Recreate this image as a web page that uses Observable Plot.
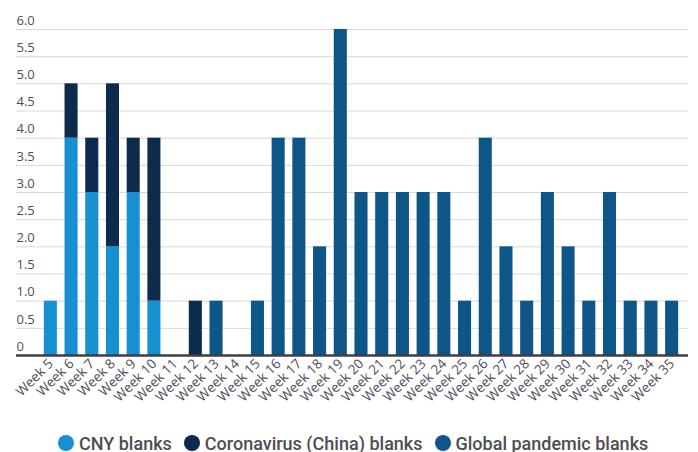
<!DOCTYPE html>
<html>
<head>
<meta charset="utf-8">
<script src="https://cdn.jsdelivr.net/npm/d3@7"></script>
<script src="https://cdn.jsdelivr.net/npm/@observablehq/plot@0.6"></script>
<style>
  html, body { margin: 0; padding: 0; background: #fff; }
  #chart { width: 698px; }
  .legend { display: flex; align-items: center; padding-left: 58px; margin-top: 11px;
    font-family: Roboto, sans-serif; font-weight: 500; font-size: 18px; color: #4d4d52; height: 40px; }
  .legend .item { margin-right: 12px; white-space: nowrap; display: flex; align-items: center; }
  .legend span.sw { display: inline-block; width: 16px; height: 16px; border-radius: 50%; margin-right: 5px; }
</style>
</head>
<body>
<div id="chart"></div>
<script>
const weeks = ["Week 5","Week 6","Week 7","Week 8","Week 9","Week 10","Week 11","Week 12","Week 13","Week 14","Week 15","Week 16","Week 17","Week 18","Week 19","Week 20","Week 21","Week 22","Week 23","Week 24","Week 25","Week 26","Week 27","Week 28","Week 29","Week 30","Week 31","Week 32","Week 33","Week 34","Week 35"];
const cnyBlanks =    [1,4,3,2,3,1,0,0,0,0,0,0,0,0,0,0,0,0,0,0,0,0,0,0,0,0,0,0,0,0,0];
const coronaBlanks = [0,1,1,3,1,3,0,1,0,0,0,0,0,0,0,0,0,0,0,0,0,0,0,0,0,0,0,0,0,0,0];
const globalBlanks = [0,0,0,0,0,0,0,0,1,0,1,4,4,2,6,3,3,3,3,3,1,4,2,1,3,2,1,3,1,1,1];
const seriesNames = ["CNY blanks", "Coronavirus (China) blanks", "Global pandemic blanks"];
const seriesColors = ["#1690d0", "#0c2b4d", "#0e5588"];
const yTicks = [0, 0.5, 1, 1.5, 2, 2.5, 3, 3.5, 4, 4.5, 5, 5.5, 6];
const yTickLabels = ["0", "0.5", "1.0", "1.5", "2.0", "2.5", "3.0", "3.5", "4.0", "4.5", "5.0", "5.5", "6.0"];

const seriesValues = [cnyBlanks, coronaBlanks, globalBlanks];
const data = [];
seriesNames.forEach((s, si) => weeks.forEach((w, i) => data.push({week: w, series: s, value: seriesValues[si][i]})));

const plot = Plot.plot({
  width: 698,
  height: 412,
  marginTop: 29,
  marginBottom: 57,
  marginLeft: 16,
  marginRight: 10,
  style: {fontFamily: "'Open Sans', sans-serif", color: "#4d4d5a", background: "#fff"},
  x: {domain: weeks, range: [40, 682], round: false, paddingInner: 0.37, paddingOuter: 0.185, label: null},
  y: {domain: [0, 6], label: null},
  color: {domain: seriesNames, range: seriesColors},
  marks: [
    Plot.ruleY(yTicks.slice(1), {stroke: "#d9d9d9", strokeWidth: 1}),
    Plot.text(yTicks, {y: d => d, text: (d, i) => yTickLabels[i], frameAnchor: "left", textAnchor: "start", dy: -9, fontSize: 13, fill: "#4d4d5a"}),
    Plot.barY(data, {x: "week", y: "value", fill: "series", order: seriesNames}),
    Plot.ruleY([0], {stroke: "#3d3d46", strokeWidth: 2.5}),
    Plot.axisX({tickSize: 0, tickPadding: 6, tickRotate: -45, fontSize: 13.5, fill: "#4d4d5a", label: null}),
    Plot.axisY({ticks: [], label: null})
  ]
});
document.getElementById("chart").appendChild(plot);

const legend = document.createElement("div");
legend.className = "legend";
seriesNames.forEach((s, i) => {
  const item = document.createElement("span");
  item.className = "item";
  item.innerHTML = `<span class="sw" style="background:${seriesColors[i]}"></span>${s}`;
  legend.appendChild(item);
});
document.getElementById("chart").appendChild(legend);
</script>
</body>
</html>
